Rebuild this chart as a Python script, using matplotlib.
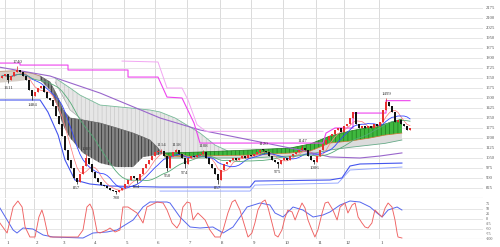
import matplotlib
matplotlib.use("Agg")
import matplotlib.pyplot as plt
import numpy as np
import pandas as pd

plt.rcParams['font.family'] = ['Liberation Serif', 'DejaVu Serif']
plt.rcParams['hatch.linewidth'] = 0.5

# ---------------- data ----------------
closes = [1665, 1680, 1635, 1665, 1695, 1710, 1695, 1665, 1635, 1560,
          1515, 1545, 1575, 1590, 1545, 1500, 1485, 1440, 1365, 1305,
          1215, 1110, 1035, 975, 900, 870, 930, 990, 1050, 1005,
          945, 900, 870, 848, 840, 825, 810, 803, 795, 810,
          825, 855, 885, 915, 900, 885, 930, 975, 1005, 1035,
          1065, 1095, 1095, 1105, 1065, 975, 1065, 1095, 1110, 1080,
          1050, 1005, 1050, 1065, 1058, 1073, 1080, 1095, 1050, 1005,
          975, 930, 885, 960, 1005, 1020, 1035, 1050, 1035, 1050,
          1065, 1050, 1073, 1065, 1080, 1095, 1110, 1105, 1095, 1065,
          1035, 1020, 1005, 1035, 1050, 1035, 1065, 1080, 1095, 1110,
          1125, 1110, 1065, 1035, 1020, 1065, 1110, 1155, 1185, 1215,
          1230, 1260, 1275, 1245, 1290, 1305, 1350, 1395, 1305, 1275,
          1290, 1275, 1290, 1275, 1305, 1290, 1320, 1410, 1470, 1440,
          1395, 1320, 1335, 1305, 1290, 1260, 1275]
first_open = 1650
peak_highs = {5: 1740, 28: 1083, 53: 1114, 58: 1118, 67: 1108, 87: 1120, 100: 1147, 128: 1499}
trough_lows = {2: 1611, 10: 1484, 25: 857, 38: 780, 45: 864, 55: 950, 61: 974, 72: 857, 92: 975, 104: 1006}

month_start = [1, 10.5, 19.5, 30, 40.5, 51, 61.5, 72.5, 83, 93.5, 104.5, 114, 125.5]
month_labels = ["1", "2", "3", "4", "5", "6", "7", "8", "9", "10", "11", "12", "1"]
price_ticks = [2175, 2100, 2025, 1950, 1875, 1800, 1725, 1650, 1575, 1500, 1425,
               1350, 1275, 1200, 1125, 1050, 975, 900, 825]
osc_ticks = [75, 50, 25, 0, -25, -50, -75, -100]

# highest-high step lines
hh_idx = [-1, 6, 6, 22, 22, 42, 42, 52, 55, 60, 64, 66, 107, 108, 111, 117, 117, 128, 128, 136]
hh_val = [1762, 1762, 1747, 1747, 1710, 1710, 1657, 1657, 1507, 1500, 1312, 1162, 1162, 1237,
          1275, 1275, 1387, 1387, 1480, 1480]
hh2_idx = [40, 52, 55, 60, 62, 65, 68, 107]
hh2_val = [1777, 1770, 1575, 1575, 1485, 1300, 1250, 1250]
# long moving average
ma_long_idx = [-1, 16, 32.7, 52.7, 66, 82.7, 99.3, 109.3, 119.3, 126, 133.3]
ma_long_val = [1732, 1665, 1537, 1350, 1260, 1185, 1110, 1058, 1050, 1065, 1088]
# lowest-low lines
ll_idx = [-1, 12.7, 15.3, 18.7, 21, 24.3, 29.3, 36, 52.7, 82.7, 84.3, 109.3, 113.3, 116, 119.3, 133.3]
ll_val = [1485, 1485, 1395, 1222, 1035, 885, 855, 840, 832, 832, 877, 885, 900, 990, 1005, 1012]
ll2_idx = [52.7, 82.7, 84.3, 112, 116, 133.3]
ll2_val = [802, 802, 847, 862, 960, 982]
# early light band around the first candles
early_idx = [-1, 5, 10, 12.7]
early_top = [1700, 1705, 1685, 1665]
early_bot = [1615, 1625, 1640, 1635]
# dark hatched band
dark_idx = [12.7, 16, 18.3, 20.3, 22.7, 27, 32.7, 38.3, 43.7, 47, 49.3, 51.7, 53.3]
dark_top = [1665, 1620, 1522, 1410, 1350, 1335, 1312, 1275, 1237, 1207, 1185, 1132, 1087]
dark_bot = [1635, 1560, 1447, 1297, 1200, 1087, 1012, 982, 982, 1057, 1065, 1072, 1080]
# light gray cloud
gray_idx = [17.7, 22.7, 26, 29.3, 32.7, 36, 42.7, 49.3, 52.7, 57.7, 62.7, 66, 71, 76]
gray_top = [1650, 1575, 1522, 1485, 1447, 1440, 1425, 1410, 1395, 1350, 1282, 1237, 1147, 1095]
gray_bot = [1620, 1410, 1350, 1297, 1260, 1222, 1147, 1110, 1095, 1087, 1087, 1080, 1072, 1080]
# green cloud and teal line below it
green_idx = [54.3, 66, 82.7, 96, 102.7, 109.3, 116, 122.7, 127.7, 133.3]
green_top = [1087, 1095, 1110, 1125, 1155, 1215, 1252, 1282, 1305, 1342]
green_bot = [1058, 1065, 1072, 1087, 1102, 1162, 1177, 1200, 1222, 1237]
teal_val = [1050, 1050, 1050, 1065, 1080, 1110, 1130, 1147, 1160, 1185]
# oscillator
osc_fast_idx = [-0.7, 1.7, 3.7, 5.3, 6.7, 7.7, 9.3, 11, 12.3, 13.3, 14, 15.3, 16, 25.3, 27, 28.3,
                29.3, 30.3, 31.7, 32.7, 35, 36, 37.7, 39.3, 40.3, 42, 45, 47, 48.3, 51.7, 53.7,
                55, 56.7, 58.3, 59.3, 60.3, 61.7, 62.7, 63.7, 64.3, 65.3, 66.7, 67.7, 69.3, 71,
                72.7, 73.7, 75.3, 76.7, 77.7, 79.3, 81, 82, 83.3, 84.3, 85.3, 86.7, 87.7, 88.7,
                90, 91, 92, 93.3, 94.3, 95.3, 96.7, 97.7, 98.7, 100, 101, 102, 103.3, 104.3,
                105.3, 106.7, 107.7, 108.7, 110.3, 111.7, 112.7, 114.3, 115.3, 116.7, 117.7,
                118.7, 120, 121, 122, 123.3, 124.3, 125.3, 126.7, 127.7, 128.7, 130, 131, 131.7,
                132, 133.3]
osc_fast_val = [-20, -70, 60, 90, 60, -40, -90, -90, 10, 45, 10, -80, -90, -90, -55, 60,
                75, 45, -65, -70, -55, -45, -65, -55, 60, 60, 30, -20, 60, 85, 80,
                45, -20, -45, -20, 60, 85, 80, -5, 10, 30, 10, -5, -55, -90,
                -90, -55, 30, 85, 95, 45, -40, -90, -70, -20, 45, 85, 95, 55,
                -20, -80, -90, -55, 5, 45, 35, -5, 35, 80, 55, -5, -55, -90,
                -55, 30, 80, 85, 45, -5, 60, 80, 30, 70, 80,
                10, -20, -40, -45, -20, 45, 30, 10, 55, 80, 60, -5, -70,
                -90, -95]
osc_slow_idx = [-0.7, 3.7, 5, 7, 10.3, 13.7, 17, 27, 30.3, 35, 38.3, 43.7, 47, 49.3, 55, 56,
                59.3, 62.7, 66, 70.3, 73.7, 77, 81.7, 86, 89.3, 91, 93.7, 97, 100.3, 103.7,
                107, 109.3, 112.7, 116, 119.3, 122.7, 125, 126.7, 128.7, 131.7, 133.3]
osc_slow_val = [55, -55, -70, -45, -50, -80, -90, -95, -70, -65, -55, -5, 60, 85, 85, 80,
                10, -40, -45, -40, -70, -40, 60, 80, 70, 30, 10, 60, 45, 10,
                20, 35, 70, 90, 85, 60, 30, 10, 45, 60, 45]

# ---------------- figure ----------------
W, H = 500, 247
fig = plt.figure(figsize=(W / 100, H / 100), dpi=100)
ax = fig.add_axes([0, (H - 198) / H, 483 / W, 198 / H])
ox = fig.add_axes([0, (H - 239) / H, 483 / W, 40 / H])

xmin, xmax = -0.67, 160.33
for a in (ax, ox):
    a.set_xlim(xmin, xmax)
    a.set_xticks([])
    a.set_yticks([])
    for s in a.spines.values():
        s.set_visible(False)
    for m in month_start:
        a.axvline(m, color='#d4d4d4', lw=0.6, zorder=0)

ax.set_ylim(750, 2235)
for t in price_ticks:
    ax.axhline(t, color='#e2e2e2', lw=0.6, zorder=0)
    ax.text(1.006, t, str(t), transform=ax.get_yaxis_transform(), ha='left', va='center',
            fontsize=3.3, color='#555555', clip_on=False)
ax.axhline(750, color='#bbbbbb', lw=0.8, zorder=0)

# clouds
ax.fill_between(early_idx, early_bot, early_top, facecolor='#d8d0c8', lw=0, zorder=1)
ax.plot(early_idx, early_top, color='#b08060', lw=0.5, zorder=2)
ax.fill_between(gray_idx, gray_bot, gray_top, facecolor='#e6e6e6', edgecolor='#c8c8c8',
                hatch='||||', lw=0, zorder=1)
ax.plot(gray_idx, gray_top, color='#77bb99', lw=0.6, zorder=2)
ax.plot(gray_idx, gray_bot, color='#aaaaaa', lw=0.5, zorder=2)
ax.fill_between(dark_idx, dark_bot, dark_top, facecolor='#858585', edgecolor='#2a2a2a',
                hatch='|||||', lw=0, zorder=2)
ax.plot(dark_idx, dark_top, color='#666666', lw=0.5, zorder=2)
ax.fill_between(green_idx, teal_val, green_bot, facecolor='#dcdcdc', lw=0, zorder=1)
ax.plot(green_idx, teal_val, color='#66aa88', lw=0.6, zorder=2)
ax.fill_between(green_idx, green_bot, green_top, facecolor='#3fb83f', edgecolor='#1e7a1e',
                hatch='||||', lw=0, zorder=2)
ax.plot(green_idx, green_top, color='#1e7a1e', lw=0.5, zorder=2)
ax.plot(green_idx, green_bot, color='#cc7733', lw=0.5, zorder=2)

# lines
ax.plot(ma_long_idx, ma_long_val, color='#9966cc', lw=0.8, zorder=3)
ax.plot(hh2_idx, hh2_val, color='#f2a6f2', lw=0.7, zorder=3)
ax.plot(hh_idx, hh_val, color='#ee44ee', lw=0.8, zorder=3)
ax.plot(ll2_idx, ll2_val, color='#99aaff', lw=0.7, zorder=3)
ax.plot(ll_idx, ll_val, color='#4455ee', lw=0.8, zorder=3)

c = np.array(closes, float)
idx = np.arange(len(c))
o = np.r_[first_open, c[:-1]]
hi = np.maximum(o, c)
lo = np.minimum(o, c)
for k, v in peak_highs.items():
    hi[k] = v
for k, v in trough_lows.items():
    lo[k] = v

s = pd.Series(c)
ax.plot(idx, s.rolling(5, min_periods=1).mean(), color='#ff8080', lw=0.55, zorder=4)
ax.plot(idx, s.rolling(9, min_periods=1).mean(), color='#3344ff', lw=0.6, zorder=4)
ax.plot(idx, s.rolling(20, min_periods=1).mean(), color='#55aa77', lw=0.6, zorder=4)

up = c >= o
body = np.where(np.abs(c - o) < 6, 6, c - o)
ax.vlines(idx, lo, hi, colors=np.where(up, '#e02020', '#111111'), lw=0.5, zorder=5)
ax.bar(idx[up], body[up], bottom=o[up], width=0.7, color='#e83030', lw=0, zorder=6)
ax.bar(idx[~up], body[~up], bottom=o[~up], width=0.7, color='#111111', lw=0, zorder=6)

for k, v in peak_highs.items():
    ax.text(k, v + 18, str(v), ha='center', va='bottom', fontsize=3.5, color='#333333', zorder=7)
for k, v in trough_lows.items():
    ax.text(k, v - 18, str(v), ha='center', va='top', fontsize=3.5, color='#333333', zorder=7)

# oscillator
ox.set_ylim(-100, 100)
for t in [50, 0, -50]:
    ox.axhline(t, color='#e2e2e2', lw=0.6, zorder=0)
for t in osc_ticks:
    ox.text(1.006, t, str(t), transform=ox.get_yaxis_transform(), ha='left', va='center',
            fontsize=3.0, color='#555555', clip_on=False)
ox.axhline(-100, color='#bbbbbb', lw=0.8, zorder=0)
ox.plot(osc_slow_idx, osc_slow_val, color='#5566ee', lw=0.7, zorder=3)
ox.plot(osc_fast_idx, osc_fast_val, color='#ef6060', lw=0.65, zorder=4)
for m, lab in zip(month_start, month_labels):
    ox.text(m + 0.6, -0.09, lab, transform=ox.get_xaxis_transform(), ha='left', va='center',
            fontsize=3.5, color='#444444', clip_on=False)

fig.savefig('out.png', dpi=100)
